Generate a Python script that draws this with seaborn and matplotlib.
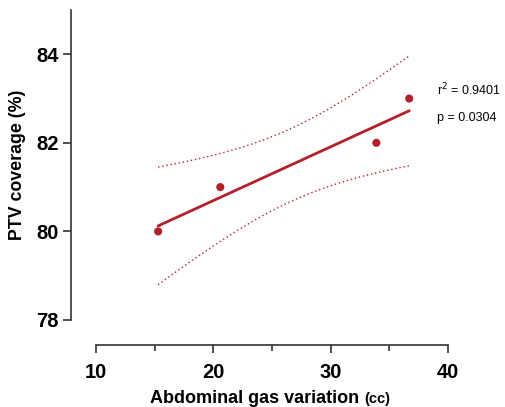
import matplotlib
matplotlib.use('Agg')
import matplotlib.pyplot as plt
import seaborn as sns
import numpy as np
import pandas as pd

# Data
gas_variation = [15.3, 20.6, 33.9, 36.7]
ptv_coverage = [80.0, 81.0, 82.0, 83.0]
x_ticks = [10, 20, 30, 40]
y_ticks = [78, 80, 82, 84]
r2_label = 'r$^2$ = 0.9401'
p_label = 'p = 0.0304'

RED = '#B2202A'

sns.set_theme(style='ticks')
plt.rcParams['font.family'] = ['Liberation Sans', 'DejaVu Sans']
plt.rcParams['text.color'] = 'black'

df = pd.DataFrame({'gas': gas_variation, 'ptv': ptv_coverage})

fig = plt.figure(figsize=(5.05, 4.07), dpi=100)
ax = fig.add_axes([0.190, 0.2138, 0.697, 0.7617])

# Fit line + scatter
sns.regplot(data=df, x='gas', y='ptv', ci=None, ax=ax, truncate=True,
            scatter_kws={'s': 34, 'color': RED, 'edgecolor': 'none',
                         'alpha': 1, 'zorder': 3},
            line_kws={'color': RED, 'linewidth': 2})

# 95% confidence band of the regression line (analytic)
x = np.asarray(gas_variation)
y = np.asarray(ptv_coverage)
n = len(x)
slope, intercept = np.polyfit(x, y, 1)
resid = y - (slope * x + intercept)
s = np.sqrt(np.sum(resid ** 2) / (n - 2))
t_val = 4.303  # t(0.975, df=2)
xs = np.linspace(x.min(), x.max(), 100)
yfit = slope * xs + intercept
se = s * np.sqrt(1 / n + (xs - x.mean()) ** 2 / np.sum((x - x.mean()) ** 2))
sns.lineplot(x=xs, y=yfit + t_val * se, ax=ax, color=RED, linewidth=1,
             linestyle=(0, (1, 2)))
sns.lineplot(x=xs, y=yfit - t_val * se, ax=ax, color=RED, linewidth=1,
             linestyle=(0, (1, 2)))

ax.set_xlim(10, 40)
ax.set_ylim(78, 85)
ax.set_xticks(x_ticks)
ax.set_xticks([15, 25, 35], minor=True)
ax.set_yticks(y_ticks)
ax.set_xlabel('')
ax.set_ylabel('')

for side in ['top', 'right']:
    ax.spines[side].set_visible(False)
for side in ['left', 'bottom']:
    ax.spines[side].set_position(('outward', 18))
    ax.spines[side].set_color('#333333')
    ax.spines[side].set_linewidth(1.2)

ax.tick_params(axis='both', which='major', length=6, width=1.2, color='#333333',
               labelsize=14.5, labelcolor='black')
ax.tick_params(axis='x', which='major', pad=7)
ax.tick_params(axis='y', which='major', pad=3)
ax.tick_params(axis='x', which='minor', length=4, width=1.2, color='#333333')
for lbl in ax.get_xticklabels() + ax.get_yticklabels():
    lbl.set_fontweight('bold')

# Axis labels
fig.text(18 / 505, 1 - 165 / 407, 'PTV coverage (%)', rotation=90, ha='center',
         va='center', fontsize=12.8, fontweight='bold')
fig.canvas.draw()
renderer = fig.canvas.get_renderer()
t1 = fig.text(150 / 505, 1 - 403 / 407, 'Abdominal gas variation ', ha='left',
              va='baseline', fontsize=13, fontweight='bold')
bb = t1.get_window_extent(renderer)
fig.text(bb.x1 / fig.bbox.width, 1 - 403 / 407, '(cc)', ha='left',
         va='baseline', fontsize=10.5, fontweight='bold')

# Stats annotation
ax.text(39.1, 83.2, r2_label, fontsize=9, va='center', ha='left', clip_on=False)
ax.text(39.1, 82.57, p_label, fontsize=9, va='center', ha='left', clip_on=False)

fig.savefig('out.png', dpi=100)
